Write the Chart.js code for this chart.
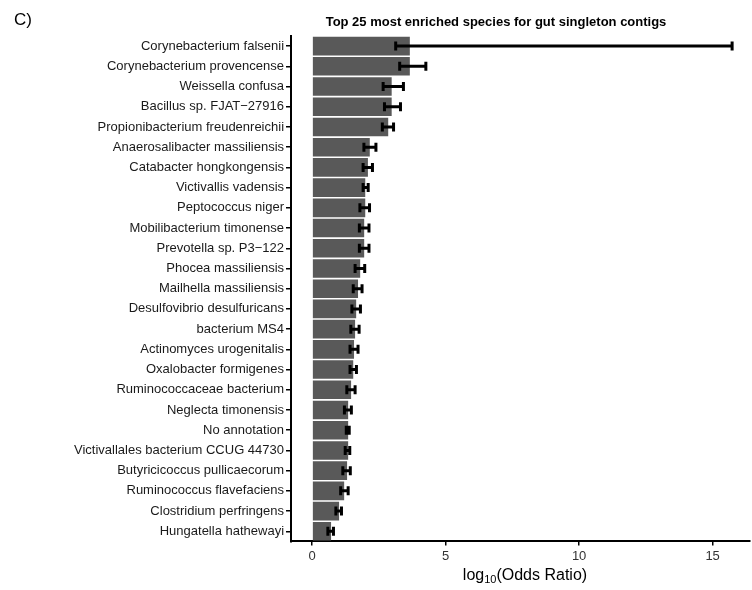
<!DOCTYPE html>
<html>
<head>
<meta charset="utf-8">
<script src="https://cdn.jsdelivr.net/npm/chart.js@4.4.1/dist/chart.umd.min.js"></script>
<style>
  html, body { margin: 0; padding: 0; background: #fff; }
  #wrap { width: 752px; height: 590px; position: relative; }
</style>
</head>
<body>
<div id="wrap"><canvas id="grafica" width="752" height="590"></canvas></div>
<script>
const species = [
  'Corynebacterium falsenii', 'Corynebacterium provencense', 'Weissella confusa',
  'Bacillus sp. FJAT\u221227916', 'Propionibacterium freudenreichii', 'Anaerosalibacter massiliensis',
  'Catabacter hongkongensis', 'Victivallis vadensis', 'Peptococcus niger',
  'Mobilibacterium timonense', 'Prevotella sp. P3\u2212122', 'Phocea massiliensis',
  'Mailhella massiliensis', 'Desulfovibrio desulfuricans', 'bacterium MS4',
  'Actinomyces urogenitalis', 'Oxalobacter formigenes', 'Ruminococcaceae bacterium',
  'Neglecta timonensis', 'No annotation', 'Victivallales bacterium CCUG 44730',
  'Butyricicoccus pullicaecorum', 'Ruminococcus flavefaciens', 'Clostridium perfringens',
  'Hungatella hathewayi'
];
const logOdds = [3.66, 3.66, 2.98, 2.98, 2.85, 2.16, 2.09, 1.99, 1.99, 1.95, 1.95, 1.80, 1.72,
  1.65, 1.61, 1.57, 1.54, 1.46, 1.35, 1.35, 1.35, 1.31, 1.20, 1.01, 0.71];
const errLow = [3.13, 3.28, 2.66, 2.71, 2.63, 1.94, 1.91, 1.91, 1.79, 1.77, 1.77, 1.61, 1.54,
  1.49, 1.45, 1.42, 1.42, 1.30, 1.21, 1.28, 1.24, 1.15, 1.07, 0.89, 0.59];
const errHigh = [15.73, 4.26, 3.42, 3.31, 3.05, 2.39, 2.26, 2.10, 2.15, 2.13, 2.13, 1.97, 1.87,
  1.81, 1.76, 1.72, 1.66, 1.61, 1.47, 1.39, 1.41, 1.43, 1.35, 1.10, 0.80];
const xTicks = [0, 5, 10, 15];

const FONT = '"Liberation Sans", Arial, Helvetica, sans-serif';

// error bars + extra texts (panel letter, title, axis title with subscript)
const extras = {
  id: 'extras',
  afterDatasetsDraw(chart) {
    const ctx = chart.ctx;
    const xs = chart.scales.x;
    const meta = chart.getDatasetMeta(0);
    ctx.save();
    ctx.strokeStyle = '#000';
    ctx.lineWidth = 3;
    meta.data.forEach((bar, i) => {
      const y = bar.y;
      const x1 = xs.getPixelForValue(errLow[i]);
      const x2 = xs.getPixelForValue(errHigh[i]);
      ctx.beginPath();
      ctx.moveTo(x1, y); ctx.lineTo(x2, y);
      ctx.moveTo(x1, y - 4.5); ctx.lineTo(x1, y + 4.5);
      ctx.moveTo(x2, y - 4.5); ctx.lineTo(x2, y + 4.5);
      ctx.stroke();
    });
    ctx.restore();
  },
  afterDraw(chart) {
    const ctx = chart.ctx;
    ctx.save();
    ctx.fillStyle = '#000';
    ctx.textBaseline = 'middle';
    ctx.font = '17px ' + FONT;
    ctx.textAlign = 'left';
    ctx.fillText('C)', 14, 20);

    ctx.font = 'bold 13px ' + FONT;
    ctx.textAlign = 'center';
    ctx.fillText('Top 25 most enriched species for gut singleton contigs', 496, 22);

    // x axis title: log10(Odds Ratio)
    const big = '16px ' + FONT, small = '11px ' + FONT;
    ctx.font = big; const w1 = ctx.measureText('log').width;
    const w3 = ctx.measureText('(Odds Ratio)').width;
    ctx.font = small; const w2 = ctx.measureText('10').width;
    let x = 525 - (w1 + w2 + w3) / 2;
    const y = 576;
    ctx.textAlign = 'left';
    ctx.font = big; ctx.fillText('log', x, y); x += w1;
    ctx.font = small; ctx.fillText('10', x, y + 4); x += w2;
    ctx.font = big; ctx.fillText('(Odds Ratio)', x, y);
    ctx.restore();
  }
};

new Chart(document.getElementById('grafica').getContext('2d'), {
  type: 'bar',
  data: {
    labels: species,
    datasets: [{
      label: 'log10(Odds Ratio)',
      data: logOdds,
      backgroundColor: '#595959',
      borderWidth: 0,
      barPercentage: 0.92,
      categoryPercentage: 1.0
    }]
  },
  options: {
    indexAxis: 'y',
    responsive: false,
    animation: false,
    layout: { padding: { left: 72, right: 2, top: 36, bottom: 23 } },
    plugins: {
      legend: { display: false },
      tooltip: { enabled: false }
    },
    scales: {
      x: {
        min: -0.79,
        max: 16.4,
        afterBuildTicks: (scale) => { scale.ticks = xTicks.map(v => ({ value: v })); },
        ticks: { color: '#333', font: { size: 13, family: FONT }, padding: 3 },
        grid: { display: true, drawOnChartArea: false, drawTicks: true, tickLength: 4, color: '#000', lineWidth: 1.5 },
        border: { display: true, color: '#000', width: 2 }
      },
      y: {
        ticks: { color: '#1a1a1a', font: { size: 13, family: FONT }, padding: 2, autoSkip: false },
        grid: { display: true, offset: false, drawOnChartArea: false, drawTicks: true, tickLength: 5, color: '#000', lineWidth: 1.5 },
        border: { display: true, color: '#000', width: 2 }
      }
    }
  },
  plugins: [extras]
});
</script>
</body>
</html>
